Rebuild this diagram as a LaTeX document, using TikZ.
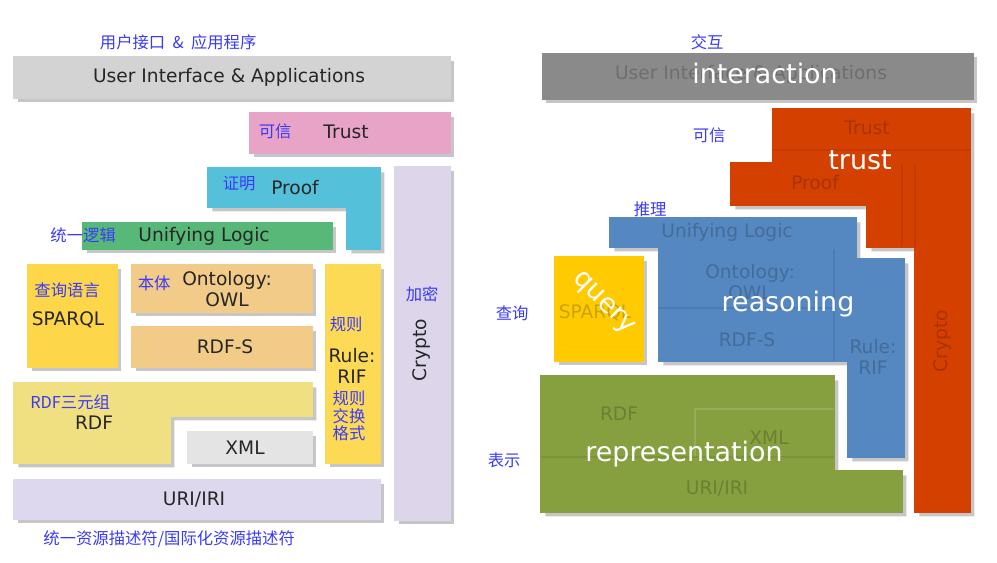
\documentclass[tikz,border=0pt]{standalone}
\usepackage{fontspec}
\setsansfont{DejaVu Sans}
\newfontfamily\cjk{Noto Sans CJK SC}
\usetikzlibrary{shadows}

\definecolor{cnblue}{HTML}{3A3AF8}
\definecolor{textgrey}{HTML}{262626}
\definecolor{uigrey}{HTML}{D3D3D3}
\definecolor{trustpink}{HTML}{E8A4C7}
\definecolor{proofcyan}{HTML}{55C0DA}
\definecolor{logicgreen}{HTML}{58B878}
\definecolor{sparqlgold}{HTML}{FDD64A}
\definecolor{owltan}{HTML}{F2CB88}
\definecolor{ruleyellow}{HTML}{FDDA55}
\definecolor{cryptolav}{HTML}{DDD6EB}
\definecolor{rdfyellow}{HTML}{F0E082}
\definecolor{xmlgrey}{HTML}{E4E4E4}
\definecolor{urilav}{HTML}{DDD8EE}
\definecolor{actgrey}{HTML}{8A8A8A}
\definecolor{trustred}{HTML}{D44000}
\definecolor{reasonblue}{HTML}{5587C0}
\definecolor{querygold}{HTML}{FFCA00}
\definecolor{reprgreen}{HTML}{86A040}

\begin{document}
\begin{tikzpicture}[x=0.02cm, y=-0.02cm,
    layer/.style={draw=white, line width=0.8pt, drop shadow={shadow xshift=2.5pt, shadow yshift=-2.5pt, opacity=0.45}},
    word/.style={font=\sffamily\fontsize{10.6}{12.4}\selectfont, text=textgrey, align=center},
    cn/.style={font=\cjk\fontsize{9.3}{10.5}\selectfont, text=cnblue, align=center},
    big/.style={font=\sffamily\fontsize{15.3}{17}\selectfont, text=white},
    ghost/.style={font=\sffamily\fontsize{10.6}{12.4}\selectfont, text=black, text opacity=0.2, align=center},
    seam/.style={black, opacity=0.08, line width=1.2pt}]
    \useasboundingbox (0,0) rectangle (997,563);

    % left: the layer cake
    \fill [layer, uigrey] (14,57) rectangle (450,98);
    \fill [layer, trustpink] (250,113) rectangle (450,153);
    \fill [layer, proofcyan] (208,168) -- (380,168) -- (380,249) -- (347,249) -- (347,207) -- (208,207) -- cycle;
    \fill [layer, cryptolav] (395,167) rectangle (450,520);
    \fill [layer, logicgreen] (83,223) rectangle (332,249);
    \fill [layer, sparqlgold] (28,265) rectangle (117,367);
    \fill [layer, owltan] (132,265) rectangle (312,312);
    \fill [layer, owltan] (132,327) rectangle (312,367);
    \fill [layer, ruleyellow] (326,265) rectangle (380,463);
    \fill [layer, rdfyellow] (14,383) -- (312,383) -- (312,416) -- (170,416) -- (170,463) -- (14,463) -- cycle;
    \fill [layer, xmlgrey] (188,432) rectangle (312,463);
    \fill [layer, urilav] (14,480) rectangle (380,519);

    \node [cn] (ui-cn) at (180,42) { 用户接口\ \ \&\ \ 应用程序 };
    \node [word] (ui) at (232,77) { User Interface \& Applications };
    \node [cn] (trust-cn) at (277,131) { 可信 };
    \node [word] (trust) at (349,132) { Trust };
    \node [cn] (proof-cn) at (241,184) { 证明 };
    \node [word] (proof) at (298,188) { Proof };
    \node [cn] (logic-cn) at (85,235) { 统一逻辑 };
    \node [word] (logic) at (207,236) { Unifying Logic };
    \node [cn] (sparql-cn) at (69,290) { 查询语言 };
    \node [word] (sparql) at (71,320) { SPARQL };
    \node [cn] (owl-cn) at (156,283) { 本体 };
    \node [word] (owl) at (227,289) { Ontology:\\OWL };
    \node [word] (rdfs) at (228,347) { RDF-S };
    \node [cn] (rule-cn) at (348,324) { 规则 };
    \node [word] (rule) at (352,366) { Rule:\\RIF };
    \node [cn, font=\cjk\fontsize{9.3}{9.9}\selectfont] (rif-cn) at (349,416) { 规则\\交换\\格式 };
    \node [cn] (crypto-cn) at (424,294) { 加密 };
    \node [word, rotate=90] (crypto) at (422,347) { Crypto };
    \node [cn] (rdf-cn) at (72,402) { RDF三元组 };
    \node [word] (rdf) at (97,423) { RDF };
    \node [word] (xml) at (248,448) { XML };
    \node [word] (uri) at (197,500) { URI/IRI };
    \node [cn] (uri-cn) at (171,539) { 统一资源描述符/国际化资源描述符 };

    % right: the same cake, grouped
    \fill [layer, draw=actgrey!90!black, line width=0.5pt, actgrey] (542,53) rectangle (973,99);
    \fill [layer, draw=red!75!black, line width=0.8pt, trustred] (773,109) -- (970,109) -- (970,512) -- (915,512) -- (915,247) -- (867,247) -- (867,205) -- (731,205) -- (731,163) -- (773,163) -- cycle;
    \draw [seam] (773,150) -- (970,150);
    \draw [seam] (902,163) -- (902,247);
    \draw [seam] (915,165) -- (915,247);
    \fill [layer, draw=reasonblue!75!black, line width=0.8pt, reasonblue] (610,218) -- (856,218) -- (856,259) -- (904,259) -- (904,457) -- (848,457) -- (848,361) -- (659,361) -- (659,247) -- (610,247) -- cycle;
    \draw [seam] (834,249) -- (834,361);
    \draw [seam] (659,308) -- (834,308);
    \fill [layer, draw=orange!90!black, line width=0.8pt, querygold] (555,257) rectangle (643,361);
    \fill [layer, draw=reprgreen!70!black, line width=0.8pt, reprgreen] (541,376) -- (834,376) -- (834,471) -- (902,471) -- (902,512) -- (541,512) -- cycle;
    \draw [seam, white, opacity=0.12] (695,457) -- (695,409) -- (834,409);
    \draw [seam] (541,457) -- (834,457);

    \node [cn] (act-cn) at (709,42) { 交互 };
    \node [ghost] (act-ui) at (754,74) { User Interface \& Applications };
    \node [big] (act) at (765,73) { interaction };
    \node [cn] (trust2-cn) at (711,135) { 可信 };
    \node [ghost] (trust2-t) at (870,128) { Trust };
    \node [ghost] (trust2-p) at (818,183) { Proof };
    \node [ghost, rotate=90] (trust2-c) at (943,338) { Crypto };
    \node [big] (trust2) at (860,160) { trust };
    \node [cn] (reason-cn) at (652,209) { 推理 };
    \node [ghost] (reason-l) at (730,232) { Unifying Logic };
    \node [ghost] (reason-o) at (750,282) { Ontology:\\OWL };
    \node [ghost] (reason-s) at (750,340) { RDF-S };
    \node [ghost] (reason-r) at (873,357) { Rule:\\RIF };
    \node [big] (reason) at (788,304) { reasoning };
    \node [cn] (query-cn) at (514,313) { 查询 };
    \node [ghost] (query-s) at (598,313) { SPARQL };
    \node [big, rotate=-45] (query) at (603,304) { query };
    \node [cn] (repr-cn) at (506,460) { 表示 };
    \node [ghost] (repr-r) at (622,414) { RDF };
    \node [ghost] (repr-x) at (772,438) { XML };
    \node [ghost] (repr-u) at (720,489) { URI/IRI };
    \node [big] (repr) at (684,454) { representation };
\end{tikzpicture}
\end{document}
